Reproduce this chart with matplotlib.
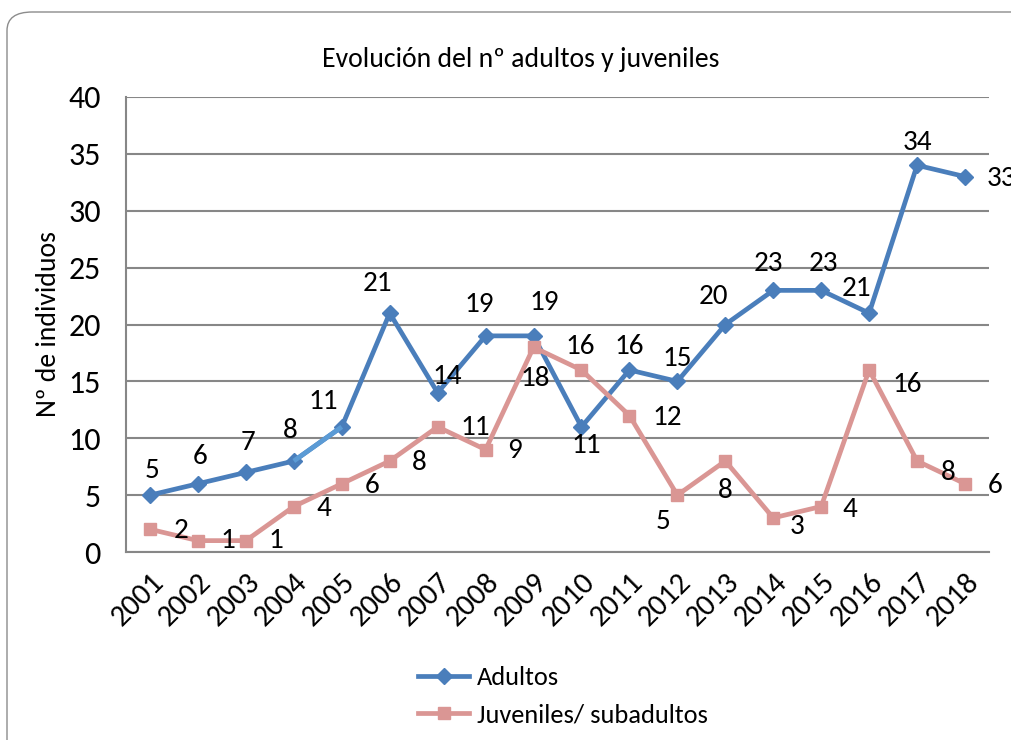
import matplotlib.pyplot as plt
from matplotlib.patches import FancyBboxPatch
from matplotlib import font_manager

years = ['2001', '2002', '2003', '2004', '2005', '2006', '2007', '2008', '2009',
         '2010', '2011', '2012', '2013', '2014', '2015', '2016', '2017', '2018']
adultos = [5, 6, 7, 8, 11, 21, 14, 19, 19, 11, 16, 15, 20, 23, 23, 21, 34, 33]
juveniles = [2, 1, 1, 4, 6, 8, 11, 9, 18, 16, 12, 5, 8, 3, 4, 16, 8, 6]

# label offsets (pixels, x right / y up) per point
adu_off = [(2, 25), (2, 27), (2, 30), (-4, 31), (-19, 25), (-12, 30), (10, 16), (-6, 31), (11, 33),
           (5, -19), (0, 23), (0, 23), (-12, 28), (-5, 27), (2, 27), (-13, 25), (0, 23), (36, -2)]
juv_off = [(31, -1), (30, 0), (30, 0), (30, -2), (30, -2), (30, -2), (38, -1), (29, -1), (2, -31),
           (-1, 23), (38, -2), (-14, -26), (0, -29), (24, -9), (29, -3), (38, -15), (31, -11), (30, -2)]

names = {f.name for f in font_manager.fontManager.ttflist}
base = 'Carlito' if 'Carlito' in names else 'Liberation Sans'
plt.rcParams['font.family'] = [base, 'DejaVu Sans']

blue = '#4A7EBB'
pink = '#DA9694'

fig = plt.figure(figsize=(10.12, 7.4), dpi=100)
ax = fig.add_axes([126 / 1012, 1 - 552 / 740, (989 - 126) / 1012, (552 - 97) / 740])

border = FancyBboxPatch((7 / 1012, -0.1), 1.1, 1.1 - 12 / 740,
                        boxstyle='round,pad=0,rounding_size=0.025',
                        transform=fig.transFigure, facecolor='none',
                        edgecolor='#8c8c8c', linewidth=1.0, clip_on=False)
fig.patches.append(border)

x = list(range(len(years)))
ax.plot(x, adultos, color=blue, linewidth=3.4, marker='D', markersize=8, label='Adultos', zorder=3)
ax.plot(x[3:5], adultos[3:5], color='#5B9BD5', linewidth=3.4, zorder=3.5, solid_capstyle='butt')
ax.plot(x, juveniles, color=pink, linewidth=3.4, marker='s', markersize=9, label='Juveniles/ subadultos', zorder=3)

for i, v in enumerate(adultos):
    ax.annotate(str(v), (x[i], v), xytext=(adu_off[i][0] * 0.72, adu_off[i][1] * 0.72),
                textcoords='offset points', ha='center', va='center', fontsize=21,
                annotation_clip=False)
for i, v in enumerate(juveniles):
    ax.annotate(str(v), (x[i], v), xytext=(juv_off[i][0] * 0.72, juv_off[i][1] * 0.72),
                textcoords='offset points', ha='center', va='center', fontsize=21,
                annotation_clip=False)

ax.set_xlim(-0.5, len(years) - 0.5)
ax.set_ylim(0, 40)
ax.set_yticks(range(0, 41, 5))
ax.set_xticks(x)
ax.set_xticklabels(years, rotation=45, ha='right', rotation_mode='anchor', fontsize=22)
ax.tick_params(axis='y', labelsize=23, length=0, pad=18)
ax.tick_params(axis='x', length=0, pad=12)
ax.yaxis.grid(True, color='#878787', linewidth=1.5)
ax.set_axisbelow(True)
for s in ['top', 'right']:
    ax.spines[s].set_visible(False)
for s in ['left', 'bottom']:
    ax.spines[s].set_color('#878787')
    ax.spines[s].set_linewidth(1.5)
ax.set_ylabel('Nº de individuos', fontsize=20, labelpad=5)

fig.text(521 / 1012, 1 - 59 / 740, 'Evolución del nº adultos y juveniles', ha='center', va='center',
         fontsize=20)

fig.legend(loc='center left', bbox_to_anchor=(418 / 1012, 1 - 696 / 740), frameon=False,
           fontsize=19, handlelength=1.95, labelspacing=0.55, handletextpad=0.27,
           borderpad=0, borderaxespad=0)

fig.savefig('out.png', dpi=100)
